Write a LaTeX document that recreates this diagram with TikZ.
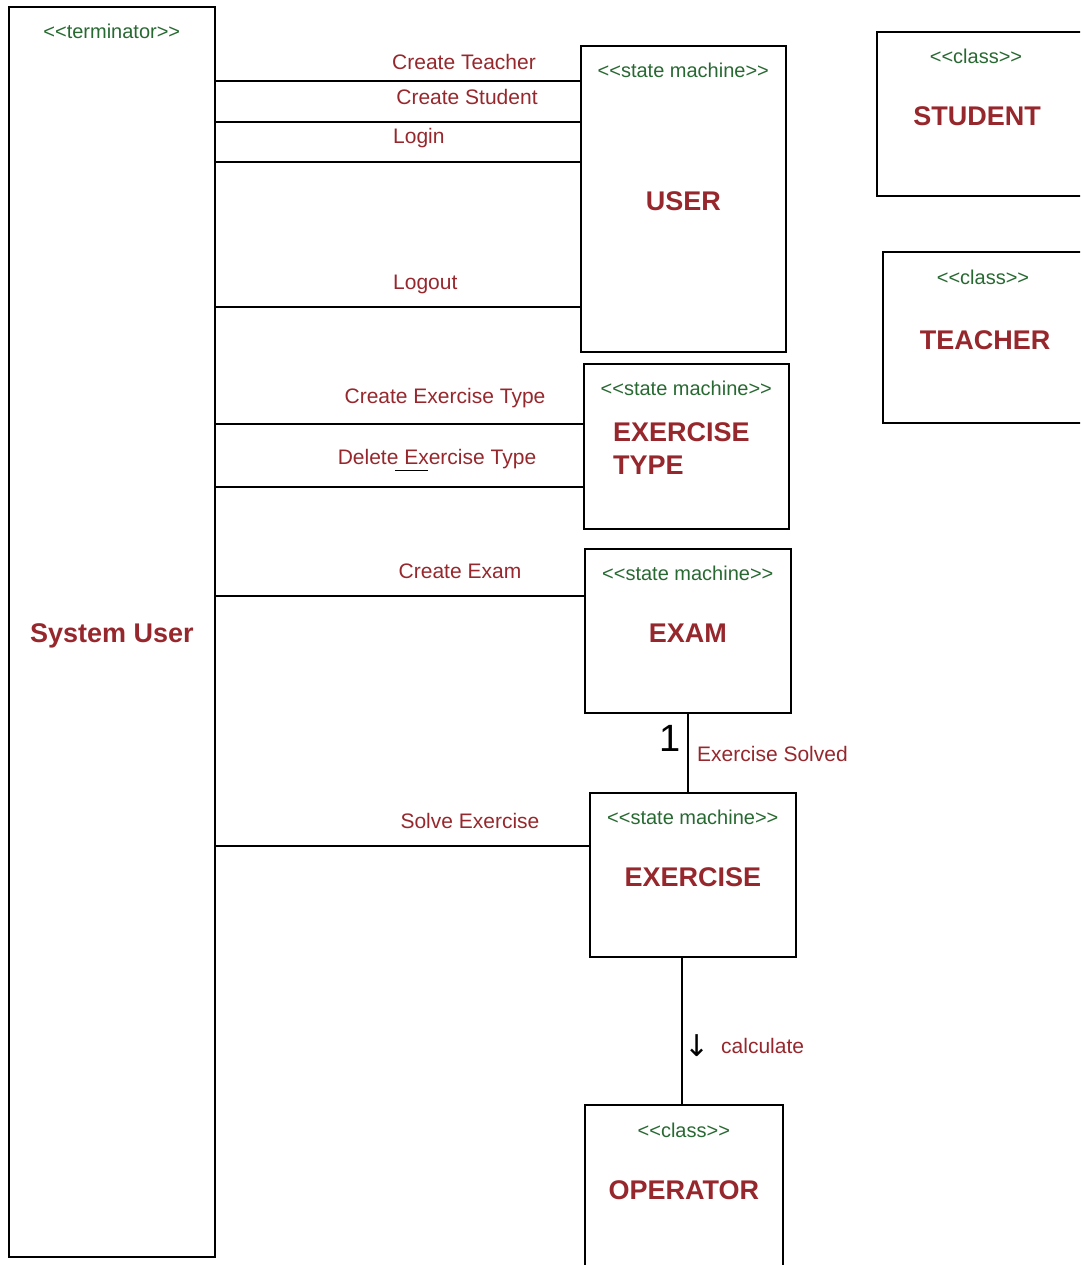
\documentclass[tikz,border=0pt]{standalone}
\usepackage{fontspec}
\setmainfont{Liberation Sans}
\newfontfamily\arrowfont{DejaVu Sans}
\usetikzlibrary{positioning}

\definecolor{msgred}{RGB}{150,40,45}
\definecolor{stereogreen}{RGB}{40,105,50}

\newcommand{\stype}[1]{{<}{<}#1{>}{>}}

\tikzset{
    box/.style={draw, line width=1.6pt, anchor=north west, inner sep=0pt},
    stereo/.style={text=stereogreen, inner sep=0pt, font=\fontsize{20}{24}\selectfont},
    title/.style={text=msgred, inner sep=0pt, font=\fontsize{27}{33}\selectfont\bfseries},
    msg/.style={text=msgred, inner sep=0pt, anchor=base, font=\fontsize{21}{25}\selectfont},
    link/.style={line width=1.6pt}
}

\begin{document}
\begin{tikzpicture}[x=1pt, y=-1pt]
        \useasboundingbox (0,0) rectangle (1080,1265);
        \clip (0,0) rectangle (1080,1265);

        % boxes
        \node[box, minimum width=206pt, minimum height=1250pt] (term) at (8,6) {};
        \node[box, minimum width=205pt, minimum height=306pt] (user) at (580,45) {};
        \node[box, minimum width=260pt, minimum height=164pt] (student) at (876,31) {};
        \node[box, minimum width=260pt, minimum height=171pt] (teacher) at (882,251) {};
        \node[box, minimum width=205pt, minimum height=165pt] (extype) at (583,363) {};
        \node[box, minimum width=206pt, minimum height=164pt] (exam) at (584,548) {};
        \node[box, minimum width=206pt, minimum height=164pt] (exercise) at (589,792) {};
        \node[box, minimum width=198pt, minimum height=200pt] (operator) at (584,1104) {};

        % stereotypes and names
        \node[stereo] (termst) at ([yshift=-25pt]term.north) {\stype{terminator}};
        \node[title] (termname) at ([yshift=-630pt]term.north) {System User};

        \node[stereo] (userst) at ([yshift=-25pt]user.north) {\stype{state machine}};
        \node[title] (username) at ([yshift=-156pt]user.north) {USER};

        \node[stereo] (studentst) at ([xshift=100pt, yshift=-25pt]student.north west) {\stype{class}};
        \node[title] (studentname) at ([xshift=101pt, yshift=-85pt]student.north west) {STUDENT};

        \node[stereo] (teacherst) at ([xshift=101pt, yshift=-26pt]teacher.north west) {\stype{class}};
        \node[title] (teachername) at ([xshift=103pt, yshift=-89pt]teacher.north west) {TEACHER};

        \node[stereo] (extypest) at ([yshift=-25pt]extype.north) {\stype{state machine}};
        \node[title, align=left, anchor=west] (extypename) at ([xshift=30pt, yshift=-86pt]extype.north west) {EXERCISE\\TYPE};

        \node[stereo] (examst) at ([yshift=-25pt]exam.north) {\stype{state machine}};
        \node[title] (examname) at ([yshift=-85pt]exam.north) {EXAM};

        \node[stereo] (exercisest) at ([yshift=-25pt]exercise.north) {\stype{state machine}};
        \node[title] (exercisename) at ([yshift=-85pt]exercise.north) {EXERCISE};

        \node[stereo] (operatorst) at ([yshift=-26pt]operator.north) {\stype{class}};
        \node[title] (operatorname) at ([yshift=-86pt]operator.north) {OPERATOR};

        % messages from the terminator
        \draw[link] (term.east |- 0,81) -- (user.west |- 0,81);
        \draw[link] (term.east |- 0,122) -- (user.west |- 0,122);
        \draw[link] (term.east |- 0,162) -- (user.west |- 0,162);
        \draw[link] (term.east |- 0,307) -- (user.west |- 0,307);
        \draw[link] (term.east |- 0,424) -- (extype.west |- 0,424);
        \draw[link] (term.east |- 0,487) -- (extype.west |- 0,487);
        \draw[link] (term.east |- 0,596) -- (exam.west |- 0,596);
        \draw[link] (term.east |- 0,846) -- (exercise.west |- 0,846);

        \node[msg] (mteacher) at (464,70) {Create Teacher};
        \node[msg] (mstudent) at (467,105) {Create Student};
        \node[msg, anchor=base west] (mlogin) at (393,144) {Login};
        \node[msg, anchor=base west] (mlogout) at (393,289) {Logout};
        \node[msg] (mcreatetype) at (445,403) {Create Exercise Type};
        \node[msg] (mdeletetype) at (437,464) {Delete Exercise Type};
        \draw[line width=1pt] (395,470) -- (428,470);
        \node[msg] (mcreateexam) at (460,578) {Create Exam};
        \node[msg] (msolve) at (470,828) {Solve Exercise};

        % exam -- exercise -- operator
        \draw[link] (exam.south -| 688,0) -- (exercise.north -| 688,0);
        \node[inner sep=0pt, font=\fontsize{38}{40}\selectfont\mdseries] (mult) at (670,738) {1};
        \node[msg, anchor=base west] (msolved) at (697,761) {Exercise Solved};

        \draw[link] (exercise.south -| 682,0) -- (operator.north -| 682,0);
        \node[inner sep=0pt, font=\arrowfont\fontsize{30}{32}\selectfont] (calcarrow) at (697,1046) {↓};
        \node[msg, anchor=base west] (mcalc) at (721,1053) {calculate};
\end{tikzpicture}
\end{document}
